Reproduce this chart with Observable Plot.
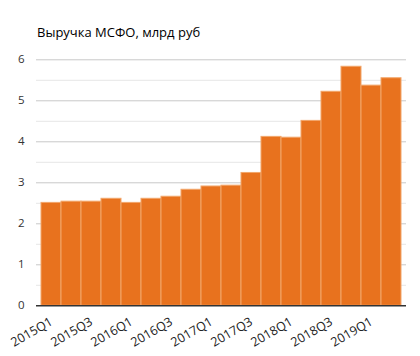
<!DOCTYPE html>
<html><head><meta charset="utf-8">
<script src="https://cdn.jsdelivr.net/npm/d3@7"></script>
<script src="https://cdn.jsdelivr.net/npm/@observablehq/plot@0.6"></script>
<style>
body{margin:0;background:#fff;font-family:"Open Sans",sans-serif;}
#title{height:45px;box-sizing:border-box;padding:24px 0 0 37px;font-size:13px;color:#000;line-height:16px;}
</style></head>
<body>
<div id="title">Выручка МСФО, млрд руб</div>
<div id="chart"></div>
<script>
const quarters = ["2015Q1","2015Q2","2015Q3","2015Q4","2016Q1","2016Q2","2016Q3","2016Q4","2017Q1","2017Q2","2017Q3","2017Q4","2018Q1","2018Q2","2018Q3","2018Q4","2019Q1","2019Q2"];
const revenue = [2.51,2.54,2.54,2.61,2.51,2.61,2.66,2.83,2.91,2.93,3.24,4.12,4.10,4.51,5.22,5.83,5.37,5.55];
const labelQuarters = quarters.filter((q,i)=>i%2===0);
const data = quarters.map((q,i)=>({q, v: revenue[i]}));
const chart = Plot.plot({
  width: 420, height: 311,
  marginLeft: 36, marginRight: 14, marginTop: 14.3, marginBottom: 50.7,
  style: {fontFamily: '"Open Sans", sans-serif', fontSize: "11px", color: "#333"},
  x: {type: "band", domain: quarters, padding: 0, label: null},
  y: {domain: [0, 6], label: null},
  marks: [
    Plot.ruleY(d3.range(0.5, 6, 1), {stroke: "#e6e6e6"}),
    Plot.ruleY(d3.range(1, 7, 1), {stroke: "#c8c8c8"}),
    Plot.barY(data, {x: "q", y: "v", fill: "#E8721E", stroke: "#F2A66A", strokeWidth: 1, inset: 0}),
    Plot.ruleY([0], {stroke: "#333", strokeWidth: 1.5}),
    Plot.axisY({ticks: d3.range(0, 7), tickSize: 0, tickPadding: 12, tickFormat: d3.format("d"), fontSize: 11.5}),
    Plot.axisX({ticks: labelQuarters, tickSize: 0, tickPadding: 15, tickRotate: -30, fontSize: 12.5, fill: "#222"})
  ]
});
document.getElementById("chart").appendChild(chart);
</script>
</body></html>
